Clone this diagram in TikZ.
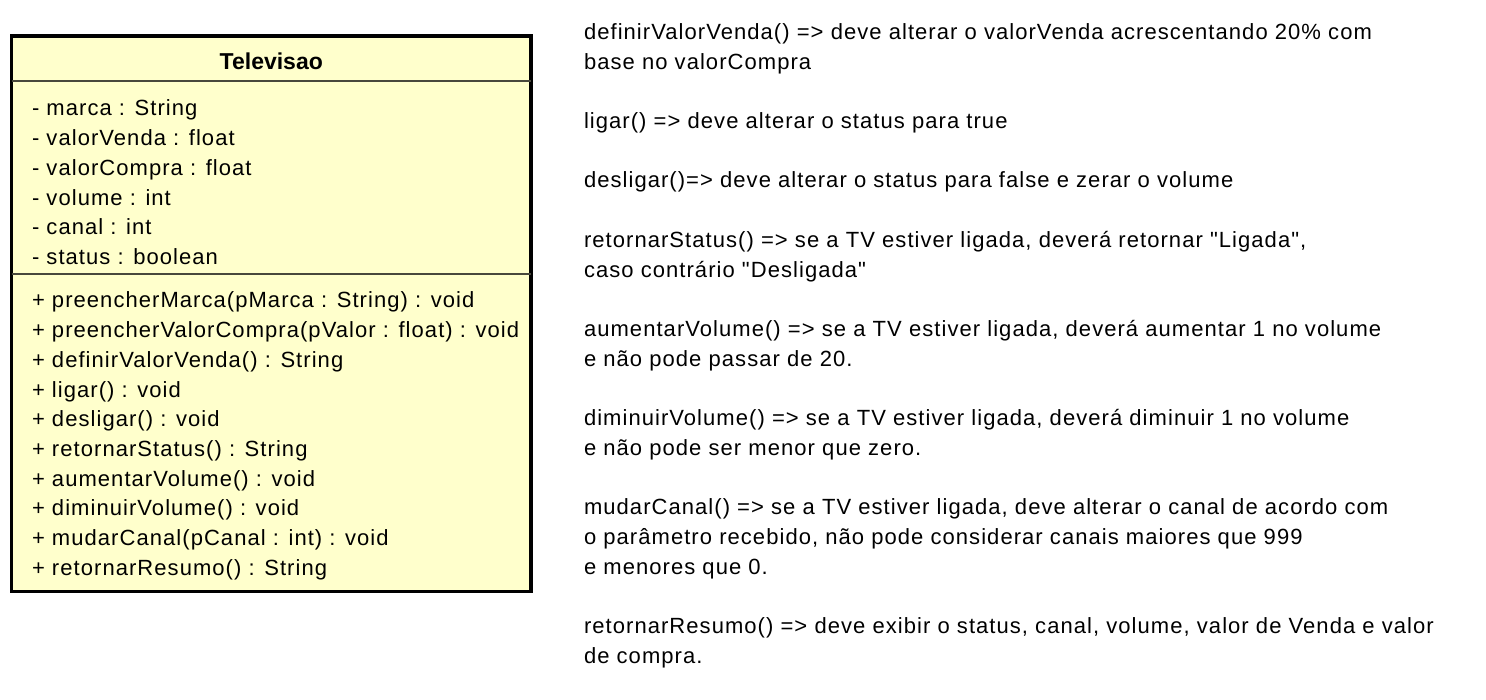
\documentclass[tikz,border=0pt]{standalone}
\usepackage{fontspec}
\setmainfont{Liberation Sans}[LetterSpace=4.8, Ligatures=TeXOff]
\newfontfamily\titlefont{Liberation Sans}[BoldFont={Liberation Sans Bold}]
\definecolor{classfill}{RGB}{255,255,204}
\definecolor{sepline}{RGB}{72,72,60}
\tikzset{
  classbox/.style={draw=black, line width=3.5pt, fill=classfill, inner sep=0pt, outer sep=0pt, anchor=north west},
  sepstyle/.style={draw=sepline, line width=1.6pt},
  txt/.style={anchor=base west, inner sep=0pt, outer sep=0pt, font=\fontsize{22}{26}\selectfont},
  ttl/.style={anchor=base, inner sep=0pt, outer sep=0pt, font=\titlefont\bfseries\fontsize{23}{27}\selectfont}
}
\begin{document}
\begin{tikzpicture}[x=1pt,y=-1pt]
\useasboundingbox (0,0) rectangle (1486,700);
\node[classbox, minimum width=519.3pt, minimum height=555.5pt] (cls) at (11.7,36) {};
\coordinate (s1) at (11.7,81);
\coordinate (s2) at (11.7,274);
\draw[sepstyle] (s1) -- (s1 -| cls.east);
\draw[sepstyle] (s2) -- (s2 -| cls.east);
\node[ttl] (title) at (271.3,69.3) {Televisao};
\foreach \t [count=\i from 0] in {
  {- marca : String},
  {- valorVenda : float},
  {- valorCompra : float},
  {- volume : int},
  {- canal : int},
  {- status : boolean}}
  \node[txt] (attr\i) at (32,116+\i*29.7) {\t};
\foreach \t [count=\i from 0] in {
  {+ preencherMarca(pMarca : String) : void},
  {+ preencherValorCompra(pValor : float) : void},
  {+ definirValorVenda() : String},
  {+ ligar() : void},
  {+ desligar() : void},
  {+ retornarStatus() : String},
  {+ aumentarVolume() : void},
  {+ diminuirVolume() : void},
  {+ mudarCanal(pCanal : int) : void},
  {+ retornarResumo() : String}}
  \node[txt] (meth\i) at (32,308+\i*29.7) {\t};
\foreach \k/\t in {
  0/{definirValorVenda() => deve alterar o valorVenda acrescentando 20\% com},
  1/{base no valorCompra},
  3/{ligar() => deve alterar o status para true},
  5/{desligar()=> deve alterar o status para false e zerar o volume},
  7/{retornarStatus() => se a TV estiver ligada, deverá retornar "Ligada",},
  8/{caso contrário "Desligada"},
  10/{aumentarVolume() => se a TV estiver ligada, deverá aumentar 1 no volume},
  11/{e não pode passar de 20.},
  13/{diminuirVolume() => se a TV estiver ligada, deverá diminuir 1 no volume},
  14/{e não pode ser menor que zero.},
  16/{mudarCanal() => se a TV estiver ligada, deve alterar o canal de acordo com},
  17/{o parâmetro recebido, não pode considerar canais maiores que 999},
  18/{e menores que 0.},
  20/{retornarResumo() => deve exibir o status, canal, volume, valor de Venda e valor},
  21/{de compra.}}
  \node[txt] (note\k) at (584,39.5+\k*29.7) {\t};
\end{tikzpicture}
\end{document}
